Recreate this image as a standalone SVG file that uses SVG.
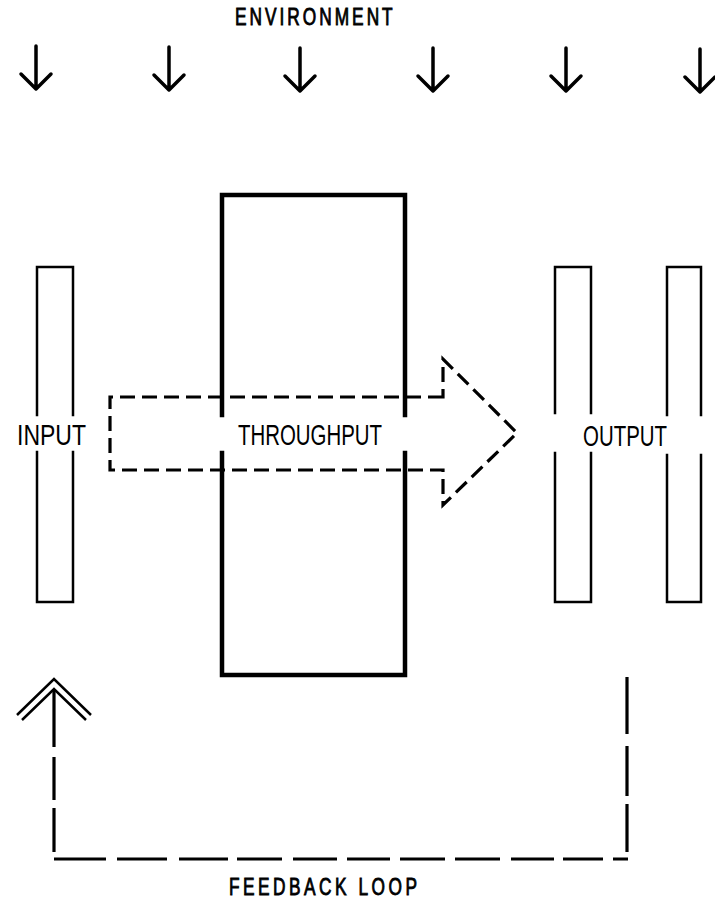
<svg xmlns="http://www.w3.org/2000/svg" width="715" height="900" viewBox="0 0 715 900">
  <style>
    .bar { fill: none; stroke: #000; stroke-width: 2.5; stroke-linecap: square; }
    .thick { fill: none; stroke: #000; stroke-width: 4.5; stroke-linecap: square; stroke-linejoin: miter; }
    .label { font-family: "Liberation Sans", Arial, sans-serif; font-size: 30px; fill: #000; }
    .caption { font-family: "Liberation Sans", Arial, sans-serif; font-size: 24px; fill: #000; stroke: #000; stroke-width: 0.9; }
    .env { fill: none; stroke: #000; stroke-width: 3.5; stroke-linecap: round; stroke-linejoin: round; }
    .flow { fill: none; stroke: #000; stroke-width: 3.2; stroke-dasharray: 15 7; stroke-linejoin: miter; }
    .loop { fill: none; stroke: #000; stroke-width: 3.2; stroke-linecap: butt; }
    .chev { fill: none; stroke: #000; stroke-width: 2.5; stroke-linecap: butt; stroke-linejoin: miter; }
  </style>
  <defs>
    <path id="down" d="M0,-43 V0 M-15,-15 L0,0 L15,-15"/>
  </defs>
  <rect width="715" height="900" fill="#fff"/>

  <!-- environment heading (narrow, letter-spaced) -->
  <g id="environment">
    <text class="caption" transform="translate(235,25) scale(0.72,1)" textLength="219" lengthAdjust="spacing">ENVIRONMENT</text>
  </g>

  <g id="connectors">
    <g class="env">
      <use href="#down" x="36" y="89"/>
      <use href="#down" x="169" y="90"/>
      <use href="#down" x="300" y="91"/>
      <use href="#down" x="433" y="91"/>
      <use href="#down" x="566" y="91"/>
      <use href="#down" x="700" y="92"/>
    </g>

    <!-- broad dashed flow arrow through the system -->
    <path class="flow" d="M443,397 H110 V470 H443 V505 L517,433 L443,359 Z"/>

    <!-- feedback loop from output back to input -->
    <g class="loop">
      <path d="M54,689 V747 M54,757 V800 M54,808 V852"/>
      <path d="M627,677 V734 M627,746 V796 M627,804 V852"/>
      <path d="M54,859 H106 M117,859 H167 M179,859 H228 M237,859 H282 M293,859 H337 M347,859 H390 M400,859 H445 M455,859 H500 M511,859 H554 M563,859 H603 M613,859 H628"/>
    </g>
    <g class="chev">
      <path d="M17,715 L54,679 L91,715"/>
      <path d="M22,720 L54,689 L86,720"/>
    </g>
  </g>

  <g id="input">
    <path class="bar" d="M37,415 V267 H73 V415 M37,452 V602 H73 V452"/>
    <text class="label" x="17" y="445" textLength="69" lengthAdjust="spacingAndGlyphs">INPUT</text>
  </g>

  <g id="throughput">
    <path class="thick" d="M222,415 V195 H405 V415 M222,453 V675 H405 V453"/>
    <text class="label" x="238" y="445" textLength="144" lengthAdjust="spacingAndGlyphs">THROUGHPUT</text>
  </g>

  <g id="output">
    <path class="bar" d="M555,413 V267 H591 V413 M555,453 V602 H591 V453"/>
    <path class="bar" d="M667,415 V267 H701 V415 M667,455 V602 H701 V455"/>
    <text class="label" x="583" y="446" textLength="84" lengthAdjust="spacingAndGlyphs">OUTPUT</text>
  </g>

  <g id="feedback-loop">
    <text class="caption" transform="translate(229,895) scale(0.72,1)" textLength="261" lengthAdjust="spacing">FEEDBACK LOOP</text>
  </g>
</svg>
